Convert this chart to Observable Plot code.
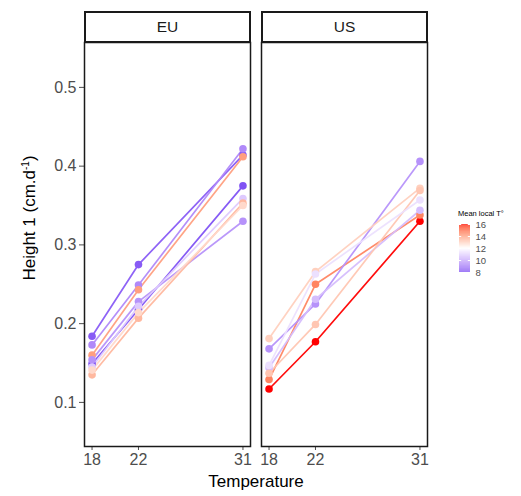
<!DOCTYPE html>
<html>
<head>
<meta charset="utf-8">
<script src="https://cdn.jsdelivr.net/npm/d3@7"></script>
<script src="https://cdn.jsdelivr.net/npm/@observablehq/plot@0.6"></script>
<style>
  html, body { margin: 0; padding: 0; background: white; }
  #wrap { position: relative; width: 521px; height: 496px; font-family: "Liberation Sans", Arial, sans-serif; overflow: hidden; }
  #wrap > * { position: absolute; }
  .strip { box-sizing: border-box; border: 2px solid #1a1a1a; background: white; text-align: center; font-size: 15.5px; color: #1a1a1a; line-height: 27px; }
  .axlab { font-size: 17px; color: #000; white-space: nowrap; }
</style>
</head>
<body>
<div id="wrap"></div>
<script>
// ---- data ----
const regions = ["EU","EU","EU","EU","EU","EU","EU","EU","US","US","US","US","US","US","US"];
const meanLocalT = [8.2, 9.3, 14.0, 8.0, 9.5, 10.8, 13.5, 12.8, 16.0, 14.5, 9.5, 10.5, 13.0, 13.2, 11.3];
const temperatures = [18, 22, 31];
const height18 = [0.184, 0.173, 0.160, 0.149, 0.154, 0.145, 0.135, 0.141, 0.117, 0.129, 0.168, 0.144, 0.181, 0.137, 0.147];
const height22 = [0.275, 0.249, 0.243, 0.218, 0.228, 0.222, 0.207, 0.214, 0.177, 0.250, 0.225, 0.231, 0.266, 0.199, 0.263];
const height31 = [0.414, 0.422, 0.412, 0.375, 0.330, 0.359, 0.353, 0.350, 0.330, 0.338, 0.406, 0.344, 0.372, 0.369, 0.357];
const yTicks = [0.1, 0.2, 0.3, 0.4, 0.5];
const legendTicks = [8, 10, 12, 14, 16];
const facets = ["EU", "US"];

const rows = [];
regions.forEach((r, i) => {
  [height18, height22, height31].forEach((hs, j) => {
    rows.push({region: r, id: i, T: meanLocalT[i], temp: temperatures[j], h: hs[i]});
  });
});

const colorScale = {type: "linear", domain: [8, 12, 16], range: ["#8052F4", "#ffffff", "#ff0000"], interpolate: "lab"};

const wrap = document.getElementById("wrap");

const chart = Plot.plot({
  width: 521, height: 496,
  marginLeft: 84, marginRight: 93, marginTop: 42, marginBottom: 50,
  style: {fontFamily: "Liberation Sans, Arial, sans-serif", fontSize: "16px", color: "#4d4d4d", background: "transparent"},
  fx: {domain: facets, padding: 0.062, axis: null, label: null},
  x: {domain: [17.35, 31.65], ticks: temperatures, tickSize: 4, tickPadding: 3, label: null},
  y: {domain: [0.044, 0.557], ticks: yTicks, tickSize: 5, tickPadding: 3, tickFormat: d3.format(".1f"), label: null},
  color: colorScale,
  marks: [
    Plot.line(rows, {fx: "region", x: "temp", y: "h", z: "id", stroke: "T", strokeWidth: 1.7, strokeOpacity: 0.95}),
    Plot.dot(rows, {fx: "region", x: "temp", y: "h", fill: "T", r: 3.8}),
    Plot.frame({stroke: "#1a1a1a", strokeWidth: 1.5})
  ]
});
chart.style.left = "0px"; chart.style.top = "0px";
wrap.appendChild(chart);

// strips
const strips = [["EU", 84], ["US", 261]];
strips.forEach(([t, x]) => {
  const d = document.createElement("div");
  d.className = "strip";
  d.style.left = x + "px"; d.style.top = "11px"; d.style.width = "167px"; d.style.height = "32px";
  d.textContent = t;
  wrap.appendChild(d);
});

// axis titles
const yl = document.createElement("div");
yl.className = "axlab";
yl.innerHTML = "Height 1 (cm.d<sup style='font-size:10px'>-1</sup>)";
yl.style.left = "30px"; yl.style.top = "218px";
yl.style.transform = "translate(-50%, -50%) rotate(-90deg)";
wrap.appendChild(yl);

const xl = document.createElement("div");
xl.className = "axlab";
xl.textContent = "Temperature";
xl.style.left = "256px"; xl.style.top = "472px";
xl.style.transform = "translateX(-50%)";
wrap.appendChild(xl);

// legend
const lt = document.createElement("div");
lt.textContent = "Mean local T°";
lt.style.cssText = "left:458px;top:209px;font-size:7.5px;color:#000;white-space:nowrap;";
wrap.appendChild(lt);

const steps = d3.range(8, 16, 0.1);
const leg = Plot.plot({
  width: 42, height: 58,
  marginLeft: 0, marginRight: 31, marginTop: 5, marginBottom: 5,
  style: {fontFamily: "Liberation Sans, Arial, sans-serif", fontSize: "9.5px", color: "#4d4d4d", background: "transparent"},
  x: {domain: [0, 1], axis: null},
  y: {domain: [8, 16], ticks: legendTicks, tickSize: 0, tickPadding: 5, axis: "right", label: null},
  color: colorScale,
  marks: [
    Plot.rect(steps, {x1: 0, x2: 1, y1: d => d, y2: d => d + 0.1, fill: d => d + 0.05}),
    Plot.ruleY(legendTicks, {x1: 0, x2: 0.2, stroke: "white", strokeWidth: 1}),
    Plot.ruleY(legendTicks, {x1: 0.8, x2: 1, stroke: "white", strokeWidth: 1})
  ]
});
leg.style.left = "459px"; leg.style.top = "219px";
wrap.appendChild(leg);
</script>
</body>
</html>
